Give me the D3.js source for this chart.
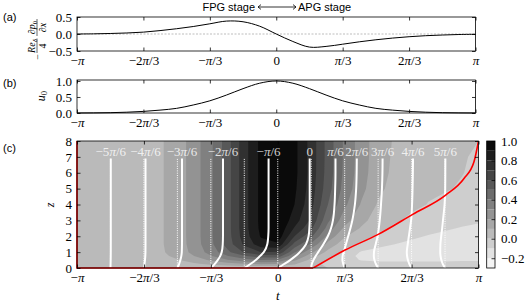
<!DOCTYPE html>
<html lang="en">
<head>
<meta charset="UTF-8">
<title>FPG / APG stage boundary layer</title>
<script src="https://d3js.org/d3.v7.min.js"></script>
<style>
  body { margin: 0; background: #fff; }
  .sans { font-family: "Liberation Sans", Arial, sans-serif; }
</style>
</head>
<body>
<div id="chart"></div>
<script>
const PI = Math.PI;
const serif = "Liberation Serif";

// time grid: multiples of pi/12 from -pi to pi
const tGrid = d3.range(-12, 13).map(k => k * PI / 12);

// (a) scaled pressure gradient
const pressureGrad = [0, 0.005, 0.015, 0.03, 0.055, 0.10, 0.155, 0.22, 0.30, 0.38, 0.36, 0.23, 0.0,
  -0.22, -0.385, -0.365, -0.30, -0.23, -0.17, -0.12, -0.08, -0.05, -0.03, -0.015, -0.008];

// (b) outer velocity
const u0 = [0, 0.003, 0.01, 0.025, 0.05, 0.09, 0.145, 0.25, 0.38, 0.56, 0.76, 0.93, 1.0,
  0.93, 0.76, 0.56, 0.38, 0.25, 0.145, 0.09, 0.05, 0.025, 0.01, 0.003, 0];

// (c) velocity field u(t, z), one row per z level
const zGrid = [0, 0.25, 0.5, 0.75, 1, 1.5, 2, 2.5, 3, 4, 5, 6, 7, 8];
const uField = [
  [0, 0, 0, 0, 0, 0, 0, 0, 0, 0, 0, 0, 0, 0, 0, 0, 0, 0, 0, 0, 0, 0, 0, 0, 0],
  [0, 0.001, 0.004, 0.009, 0.018, 0.033, 0.053, 0.084, 0.118, 0.155, 0.19, 0.21, 0.20, 0.11, 0.02, -0.015, -0.045, -0.065, -0.07, -0.07, -0.07, -0.07, -0.07, -0.065, -0.065],
  [0, 0.002, 0.0065, 0.016, 0.033, 0.059, 0.094, 0.151, 0.215, 0.29, 0.36, 0.40, 0.39, 0.22, 0.07, 0.0, -0.07, -0.105, -0.115, -0.115, -0.115, -0.115, -0.115, -0.11, -0.11],
  [0, 0.0026, 0.0085, 0.021, 0.043, 0.077, 0.123, 0.20, 0.293, 0.395, 0.49, 0.56, 0.555, 0.32, 0.14, 0.03, -0.065, -0.12, -0.135, -0.14, -0.14, -0.14, -0.14, -0.14, -0.14],
  [0, 0.0029, 0.0095, 0.024, 0.048, 0.086, 0.138, 0.231, 0.34, 0.475, 0.61, 0.70, 0.69, 0.41, 0.22, 0.07, -0.03, -0.11, -0.13, -0.14, -0.15, -0.15, -0.15, -0.15, -0.15],
  [0, 0.003, 0.01, 0.025, 0.05, 0.09, 0.144, 0.247, 0.373, 0.545, 0.72, 0.86, 0.885, 0.57, 0.38, 0.17, 0.04, -0.02, -0.075, -0.1, -0.12, -0.135, -0.145, -0.15, -0.15],
  [0, 0.003, 0.01, 0.025, 0.05, 0.09, 0.145, 0.25, 0.38, 0.557, 0.75, 0.91, 0.965, 0.70, 0.52, 0.27, 0.11, 0.035, -0.015, -0.05, -0.085, -0.105, -0.12, -0.13, -0.135],
  [0, 0.003, 0.01, 0.025, 0.05, 0.09, 0.145, 0.25, 0.38, 0.56, 0.76, 0.925, 0.99, 0.79, 0.62, 0.36, 0.18, 0.09, 0.02, -0.015, -0.05, -0.075, -0.09, -0.105, -0.115],
  [0, 0.003, 0.01, 0.025, 0.05, 0.09, 0.145, 0.25, 0.38, 0.56, 0.76, 0.93, 1.0, 0.85, 0.68, 0.42, 0.24, 0.13, 0.05, 0.01, -0.015, -0.05, -0.065, -0.08, -0.09],
  [0, 0.003, 0.01, 0.025, 0.05, 0.09, 0.145, 0.25, 0.38, 0.56, 0.76, 0.93, 1.0, 0.90, 0.73, 0.50, 0.32, 0.19, 0.09, 0.045, 0.015, -0.002, -0.015, -0.04, -0.05],
  [0, 0.003, 0.01, 0.025, 0.05, 0.09, 0.145, 0.25, 0.38, 0.56, 0.76, 0.93, 1.0, 0.92, 0.75, 0.54, 0.36, 0.23, 0.12, 0.07, 0.03, 0.01, 0.005, -0.006, -0.025],
  [0, 0.003, 0.01, 0.025, 0.05, 0.09, 0.145, 0.25, 0.38, 0.56, 0.76, 0.93, 1.0, 0.93, 0.76, 0.555, 0.375, 0.245, 0.135, 0.08, 0.04, 0.02, 0.008, 0.002, -0.012],
  [0, 0.003, 0.01, 0.025, 0.05, 0.09, 0.145, 0.25, 0.38, 0.56, 0.76, 0.93, 1.0, 0.93, 0.76, 0.56, 0.38, 0.25, 0.14, 0.085, 0.045, 0.025, 0.01, 0.003, -0.005],
  [0, 0.003, 0.01, 0.025, 0.05, 0.09, 0.145, 0.25, 0.38, 0.56, 0.76, 0.93, 1.0, 0.93, 0.76, 0.56, 0.38, 0.25, 0.145, 0.09, 0.05, 0.025, 0.01, 0.003, 0]
];

// u = 0 line once it leaves the wall
const redT = [0.556, 1.053, 1.572, 2.112, 2.628, 2.915, 3.071, PI];
const redZ = [0, 1.13, 2.12, 3.38, 4.59, 5.64, 6.69, 8];

// velocity profiles at t = k*pi/6
const profileK = [-5, -4, -3, -2, -1, 0, 1, 2, 3, 4, 5];
const profileLabels = ["−5π/6", "−4π/6", "−3π/6", "−2π/6", "−π/6", "0", "π/6", "2π/6", "3π/6", "4π/6", "5π/6"];

const levels = [-0.3, -0.2, -0.1, 0, 0.1, 0.2, 0.3, 0.4, 0.5, 0.6, 0.7, 0.8, 0.9, 1.0];

const xTicks = [-PI, -2 * PI / 3, -PI / 3, 0, PI / 3, 2 * PI / 3, PI];
const xTickLabels = ["−π", "−2π/3", "−π/3", "0", "π/3", "2π/3", "π"];
const barTicks = [-0.2, 0, 0.2, 0.4, 0.6, 0.8, 1.0];
const barTickLabels = ["−0.2", "0.0", "0.2", "0.4", "0.6", "0.8", "1.0"];

const svg = d3.select("#chart").append("svg").attr("width", 528).attr("height", 305);

const boxA = { left: 77, right: 475.5, top: 17, bottom: 51 };
const boxB = { left: 77, right: 475.5, top: 80, bottom: 113 };
const boxC = { left: 77, right: 478.5, top: 141, bottom: 268 };
const boxBar = { left: 486.7, right: 495, top: 141, bottom: 268 };

const xTop = d3.scaleLinear().domain([-PI, PI]).range([boxA.left, boxA.right]);
const xC = d3.scaleLinear().domain([-PI, PI]).range([boxC.left, boxC.right]);
const yA = d3.scaleLinear().domain([-0.5, 0.5]).range([boxA.bottom, boxA.top]);
const yB = d3.scaleLinear().domain([0, 1.03]).range([boxB.bottom, boxB.top]);
const yC = d3.scaleLinear().domain([0, 8]).range([boxC.bottom, boxC.top]);
const yBar = d3.scaleLinear().domain([-0.3, 1.0]).range([boxBar.bottom, boxBar.top]);

const shade = d3.scaleLinear().domain([-0.3, 1.0]).range(["#ffffff", "#000000"]);
const bandFill = i => shade((levels[i] + levels[i + 1]) / 2);

// write a label with an italic pi
function mathText(text, s) {
  text.text(null);
  s.split(/(π)/).forEach(part => {
    if (!part) return;
    const ts = text.append("tspan").text(part);
    if (part === "π") ts.attr("font-style", "italic");
  });
}

function styleAxis(g) {
  g.attr("font-family", serif).attr("font-size", 13);
  g.select(".domain").remove();
  g.selectAll("line").attr("stroke-width", 0.8);
}

function frame(box, x, y, xVals, xFmt, yVals, yFmt) {
  const g = svg.append("g");
  g.append("rect")
    .attr("x", box.left).attr("y", box.top)
    .attr("width", box.right - box.left).attr("height", box.bottom - box.top)
    .attr("fill", "none").attr("stroke", "#000").attr("stroke-width", 0.8);
  g.append("g").attr("transform", `translate(0,${box.bottom})`)
    .call(d3.axisBottom(x).tickValues(xVals).tickFormat((d, i) => xFmt[i]).tickSize(-3.5).tickPadding(5))
    .call(styleAxis);
  g.append("g").attr("transform", `translate(0,${box.top})`)
    .call(d3.axisTop(x).tickValues(xVals).tickFormat("").tickSize(-3.5))
    .call(styleAxis);
  g.append("g").attr("transform", `translate(${box.left},0)`)
    .call(d3.axisLeft(y).tickValues(yVals).tickFormat((d, i) => yFmt[i]).tickSize(-3.5).tickPadding(5))
    .call(styleAxis);
  g.append("g").attr("transform", `translate(${box.right},0)`)
    .call(d3.axisRight(y).tickValues(yVals).tickFormat("").tickSize(-3.5))
    .call(styleAxis);
  g.selectAll(".tick text").each(function () {
    const t = d3.select(this);
    mathText(t, t.text());
  });
}

// ---------- title ----------
svg.append("text").attr("class", "sans").attr("font-size", 11)
  .attr("x", 255).attr("y", 11).attr("text-anchor", "end").text("FPG stage");
svg.append("text").attr("class", "sans").attr("font-size", 11)
  .attr("x", 298).attr("y", 11).text("APG stage");
svg.append("path")
  .attr("d", "M258,7H296M261,4.6L258,7L261,9.4M293,4.6L296,7L293,9.4")
  .attr("fill", "none").attr("stroke", "#000").attr("stroke-width", 0.8);

// panel letters
[["(a)", 21], ["(b)", 87], ["(c)", 152]].forEach(([s, y]) => {
  svg.append("text").attr("class", "sans").attr("font-size", 11).attr("x", 3).attr("y", y).text(s);
});

// ---------- (a) ----------
svg.append("line")
  .attr("x1", boxA.left).attr("x2", boxA.right).attr("y1", yA(0)).attr("y2", yA(0))
  .attr("stroke", "#a0a0a0").attr("stroke-width", 0.7).attr("stroke-dasharray", "2,1.5");

svg.append("path")
  .datum(pressureGrad)
  .attr("fill", "none").attr("stroke", "#000").attr("stroke-width", 1)
  .attr("d", d3.line().x((d, i) => xTop(tGrid[i])).y(d => yA(d)).curve(d3.curveCatmullRom));

frame(boxA, xTop, yA, xTicks, xTickLabels, [-0.5, 0, 0.5], ["−0.5", "0.0", "0.5"]);

// y label of (a): -(Re_delta/4) dp0/dx, rotated
const labA = svg.append("g").attr("transform", "translate(37,37) rotate(-90)")
  .attr("font-family", serif).attr("font-size", 10);
labA.append("text").attr("x", -20).attr("y", 3.5).attr("text-anchor", "middle").text("−");
labA.append("line").attr("x1", -16).attr("x2", -1.5).attr("y1", 0).attr("y2", 0).attr("stroke", "#000").attr("stroke-width", 0.6);
const numA = labA.append("text").attr("x", -9).attr("y", -2.2).attr("text-anchor", "middle").attr("font-style", "italic");
numA.append("tspan").text("Re");
numA.append("tspan").attr("font-size", 7).attr("dy", 1.8).text("δ");
labA.append("text").attr("x", -9).attr("y", 8.5).attr("text-anchor", "middle").text("4");
labA.append("line").attr("x1", 1).attr("x2", 18).attr("y1", 0).attr("y2", 0).attr("stroke", "#000").attr("stroke-width", 0.6);
const numB = labA.append("text").attr("x", 9.5).attr("y", -2.2).attr("text-anchor", "middle");
numB.append("tspan").text("∂");
numB.append("tspan").attr("font-style", "italic").text("p");
numB.append("tspan").attr("font-size", 7).attr("dy", 1.8).text("0");
const denB = labA.append("text").attr("x", 9.5).attr("y", 8.5).attr("text-anchor", "middle");
denB.append("tspan").text("∂");
denB.append("tspan").attr("font-style", "italic").text("x");

// ---------- (b) ----------
svg.append("path")
  .datum(u0)
  .attr("fill", "none").attr("stroke", "#000").attr("stroke-width", 1)
  .attr("d", d3.line().x((d, i) => xTop(tGrid[i])).y(d => yB(d)).curve(d3.curveMonotoneX));

frame(boxB, xTop, yB, xTicks, xTickLabels, [0, 0.5, 1], ["0.0", "0.5", "1.0"]);

const labB = svg.append("text").attr("transform", "translate(45,96) rotate(-90)")
  .attr("font-family", serif).attr("font-size", 12).attr("text-anchor", "middle");
labB.append("tspan").attr("font-style", "italic").text("u");
labB.append("tspan").attr("font-size", 8.5).attr("dy", 2).text("0");

// ---------- (c) ----------
svg.append("defs").append("clipPath").attr("id", "clipC")
  .append("rect").attr("x", boxC.left).attr("y", boxC.top)
  .attr("width", boxC.right - boxC.left).attr("height", boxC.bottom - boxC.top);

const nT = tGrid.length, nZ = zGrid.length;
const tOfIdx = d3.scaleLinear().domain(d3.range(nT)).range(tGrid).clamp(true);
const zOfIdx = d3.scaleLinear().domain(d3.range(nZ)).range(zGrid).clamp(true);
const gridProj = d3.geoTransform({
  point(px, py) { this.stream.point(xC(tOfIdx(px - 0.5)), yC(zOfIdx(py - 0.5))); }
});
const contourPath = d3.geoPath(gridProj);
const bands = d3.contours().size([nT, nZ]).thresholds(levels.slice(0, -1))(uField.flat());

const gC = svg.append("g").attr("clip-path", "url(#clipC)");
gC.append("rect").attr("x", boxC.left).attr("y", boxC.top)
  .attr("width", boxC.right - boxC.left).attr("height", boxC.bottom - boxC.top)
  .attr("fill", bandFill(0));
gC.selectAll("path.band").data(bands).join("path")
  .attr("class", "band")
  .attr("d", contourPath)
  .attr("fill", (d, i) => bandFill(i));

// profiles
const profileTop = 6.9;
const gProf = svg.append("g");
svg.select("defs").append("clipPath").attr("id", "clipProf")
  .append("rect").attr("x", boxC.left).attr("y", yC(profileTop))
  .attr("width", boxC.right - boxC.left).attr("height", yC(0) - yC(profileTop) + 2);
const profLine = d3.line().x(d => xC(d.t + 0.5 * d.u)).y(d => yC(d.z)).curve(d3.curveMonotoneY);
profileK.forEach((k, n) => {
  const col = 12 + 2 * k;
  const t = tGrid[col];
  const pts = zGrid.map((z, j) => ({ t, z, u: uField[j][col] })).filter(d => d.z <= 7);
  gProf.append("line")
    .attr("x1", xC(t)).attr("x2", xC(t)).attr("y1", yC(0)).attr("y2", yC(profileTop))
    .attr("stroke", "#fff").attr("stroke-width", 1).attr("stroke-dasharray", "1,1.3");
  gProf.append("path").datum(pts)
    .attr("clip-path", "url(#clipProf)")
    .attr("fill", "none").attr("stroke", "#fff").attr("stroke-width", 2)
    .attr("d", profLine);
  const top = pts[pts.length - 1];
  const lab = gProf.append("text")
    .attr("x", xC(t + 0.5 * top.u)).attr("y", yC(7.08))
    .attr("text-anchor", "middle").attr("font-family", serif).attr("font-size", 13)
    .attr("fill", "#fff").attr("fill-opacity", 0.8);
  mathText(lab, profileLabels[n]);
});

// red u = 0 line: left edge, wall, then rising branch
svg.append("path")
  .attr("d", d3.line()([[xC(-PI), yC(8)], [xC(-PI), yC(0)], [xC(redT[0]), yC(redZ[0])]]))
  .attr("fill", "none").attr("stroke", "#e00000").attr("stroke-width", 1.6);
svg.append("path")
  .datum(redT.map((t, i) => [t, redZ[i]]))
  .attr("clip-path", "url(#clipC)")
  .attr("fill", "none").attr("stroke", "#ff0000").attr("stroke-width", 1.6)
  .attr("d", d3.line().x(d => xC(d[0])).y(d => yC(d[1])).curve(d3.curveMonotoneX));

frame(boxC, xC, yC, xTicks, xTickLabels, d3.range(0, 9), d3.range(0, 9).map(String));

svg.append("text").attr("transform", "translate(53.5,205) rotate(-90)")
  .attr("font-family", serif).attr("font-size", 12).attr("font-style", "italic")
  .attr("text-anchor", "middle").text("z");
svg.append("text").attr("x", xC(0)).attr("y", 300)
  .attr("font-family", serif).attr("font-size", 13).attr("font-style", "italic")
  .attr("text-anchor", "middle").text("t");

// ---------- colorbar ----------
const gBar = svg.append("g");
gBar.selectAll("rect.lev").data(levels.slice(0, -1)).join("rect")
  .attr("class", "lev")
  .attr("x", boxBar.left).attr("width", boxBar.right - boxBar.left)
  .attr("y", (d, i) => yBar(levels[i + 1]))
  .attr("height", (d, i) => yBar(levels[i]) - yBar(levels[i + 1]))
  .attr("fill", (d, i) => bandFill(i));
gBar.append("rect")
  .attr("x", boxBar.left).attr("y", boxBar.top)
  .attr("width", boxBar.right - boxBar.left).attr("height", boxBar.bottom - boxBar.top)
  .attr("fill", "none").attr("stroke", "#000").attr("stroke-width", 0.8);
gBar.append("g").attr("transform", `translate(${boxBar.right},0)`)
  .call(d3.axisRight(yBar).tickValues(barTicks).tickFormat((d, i) => barTickLabels[i]).tickSize(-3.5).tickPadding(6))
  .call(styleAxis);
</script>
</body>
</html>
